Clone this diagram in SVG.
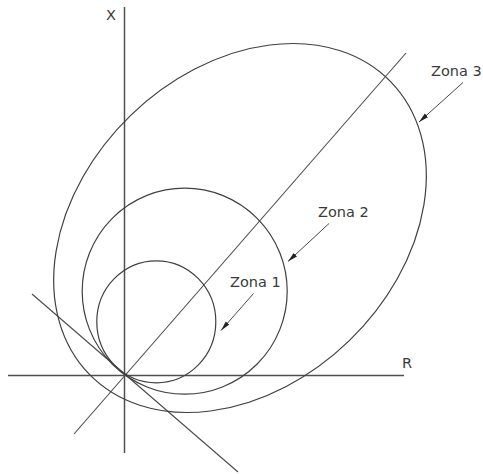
<svg xmlns="http://www.w3.org/2000/svg" width="483" height="474" viewBox="0 0 483 474">
  <defs>
    <style>
      .axis { stroke: #505050; stroke-width: 1.5; fill: none; }
      .line { stroke: #4a4a4a; stroke-width: 1.1; fill: none; }
      .zone { stroke: #404040; stroke-width: 1.2; fill: none; }
      .leader { stroke: #4a4a4a; stroke-width: 1; fill: none; }
      .lbl { font-family: "DejaVu Sans", Verdana, sans-serif; font-size: 14.5px; fill: #3a3a3a; }
    </style>
    <marker id="arr" viewBox="0 0 10 6" refX="10" refY="3" markerWidth="10" markerHeight="6" markerUnits="userSpaceOnUse" orient="auto">
      <path d="M0,0.6 L10,3 L0,5.4 z" fill="#222"/>
    </marker>
  </defs>
  <rect width="483" height="474" fill="#ffffff"/>

  <g id="axes">
    <line class="axis" x1="124.5" y1="7" x2="124.5" y2="453"/>
    <line class="axis" x1="8" y1="375.5" x2="404" y2="375.5"/>
    <text class="lbl" x="106" y="20">X</text>
    <text class="lbl" x="402" y="368">R</text>
  </g>

  <g id="lines">
    <line class="line" x1="74" y1="434" x2="406" y2="53"/>
    <line class="line" x1="32" y1="294" x2="238" y2="472"/>
  </g>

  <g id="zona1">
    <ellipse class="zone" cx="156.3" cy="321.8" rx="59.5" ry="61"/>
  </g>
  <g id="zona2">
    <ellipse class="zone" cx="184.7" cy="291.2" rx="102.5" ry="103"/>
  </g>
  <g id="zona3">
    <ellipse class="zone" cx="240" cy="228" rx="210" ry="157" transform="rotate(-44 240 228)"/>
  </g>

  <g id="connectors">
    <line class="leader" x1="463" y1="82.5" x2="419" y2="122" marker-end="url(#arr)"/>
    <line class="leader" x1="329" y1="223.5" x2="288" y2="261.5" marker-end="url(#arr)"/>
    <line class="leader" x1="253.5" y1="293.5" x2="221" y2="330.5" marker-end="url(#arr)"/>
  </g>

  <g id="labels">
    <text class="lbl" x="431" y="76">Zona 3</text>
    <text class="lbl" x="318" y="217">Zona 2</text>
    <text class="lbl" x="230" y="287">Zona 1</text>
  </g>
</svg>
